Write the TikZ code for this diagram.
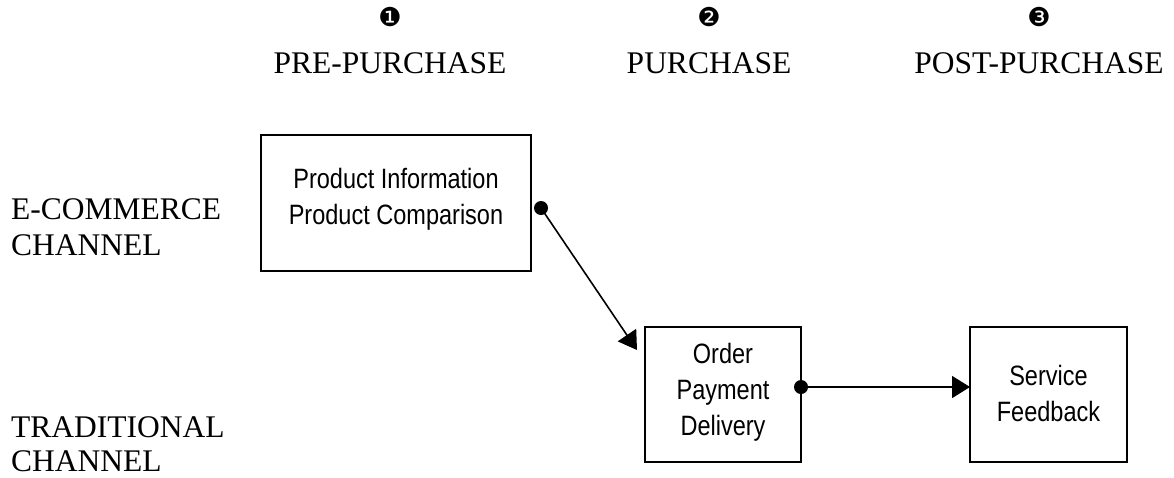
\documentclass[tikz,border=0pt]{standalone}
\usepackage{fontspec}
\setmainfont{Liberation Serif}
\newfontfamily\boxfont[FakeStretch=0.84]{Liberation Sans}
\newfontfamily\dingfont{DejaVu Sans}
\usetikzlibrary{arrows.meta}
\begin{document}
\begin{tikzpicture}[x=1pt,y=-1pt,
  stage/.style={font=\fontsize{31.5}{36}\selectfont, inner sep=0pt, anchor=base},
  stagenum/.style={font=\dingfont\fontsize{26}{26}\selectfont, inner sep=0pt},
  lane/.style={font=\fontsize{31.5}{36}\selectfont, inner sep=0pt, anchor=base west},
  stepbox/.style={draw, line width=1.6pt, inner sep=0pt},
  boxtext/.style={font=\boxfont\fontsize{28}{36}\selectfont, inner sep=0pt, align=center},
  flow/.style={line width=1.6pt, -{Triangle[length=18pt,width=22pt]}},
  knob/.style={fill=black, circle, inner sep=0pt, minimum size=14pt}
]
\useasboundingbox (0,0) rectangle (1174,477);

% stage headings
\node[stagenum] (n1) at (390,17.5) {❶};
\node[stagenum] (n2) at (709,17.5) {❷};
\node[stagenum] (n3) at (1039,17.5) {❸};
\node[stage] (h1) at (390,73) {PRE-PURCHASE};
\node[stage] (h2) at (709,73) {PURCHASE};
\node[stage] (h3) at (1039,73) {POST-PURCHASE};

% channel labels, one line per node
\node[lane] (ecom1) at (11,219) {E-COMMERCE};
\node[lane] (ecom2) at (11,255) {CHANNEL};
\node[lane] (trad1) at (11,437) {TRADITIONAL};
\node[lane] (trad2) at (11,471) {CHANNEL};

% process boxes
\draw[stepbox] (261,135) rectangle (531,271);
\node[boxtext] (t1) at (396,199) {Product Information\\Product Comparison};

\draw[stepbox] (645,327) rectangle (801,462);
\node[boxtext] (t2) at (723,392) {Order\\Payment\\Delivery};

\draw[stepbox] (970,327) rectangle (1127,462);
\node[boxtext] (t3) at (1048.5,393) {Service\\Feedback};

% connectors
\node[knob] (k1) at (541,208) {};
\node[knob] (k2) at (801,387) {};
\coordinate (tip1) at (637,350);
\coordinate (tip2) at (970,387);
\draw[flow] (k1.center) -- (tip1);
\draw[flow] (k2.center) -- (tip2);
\end{tikzpicture}
\end{document}
